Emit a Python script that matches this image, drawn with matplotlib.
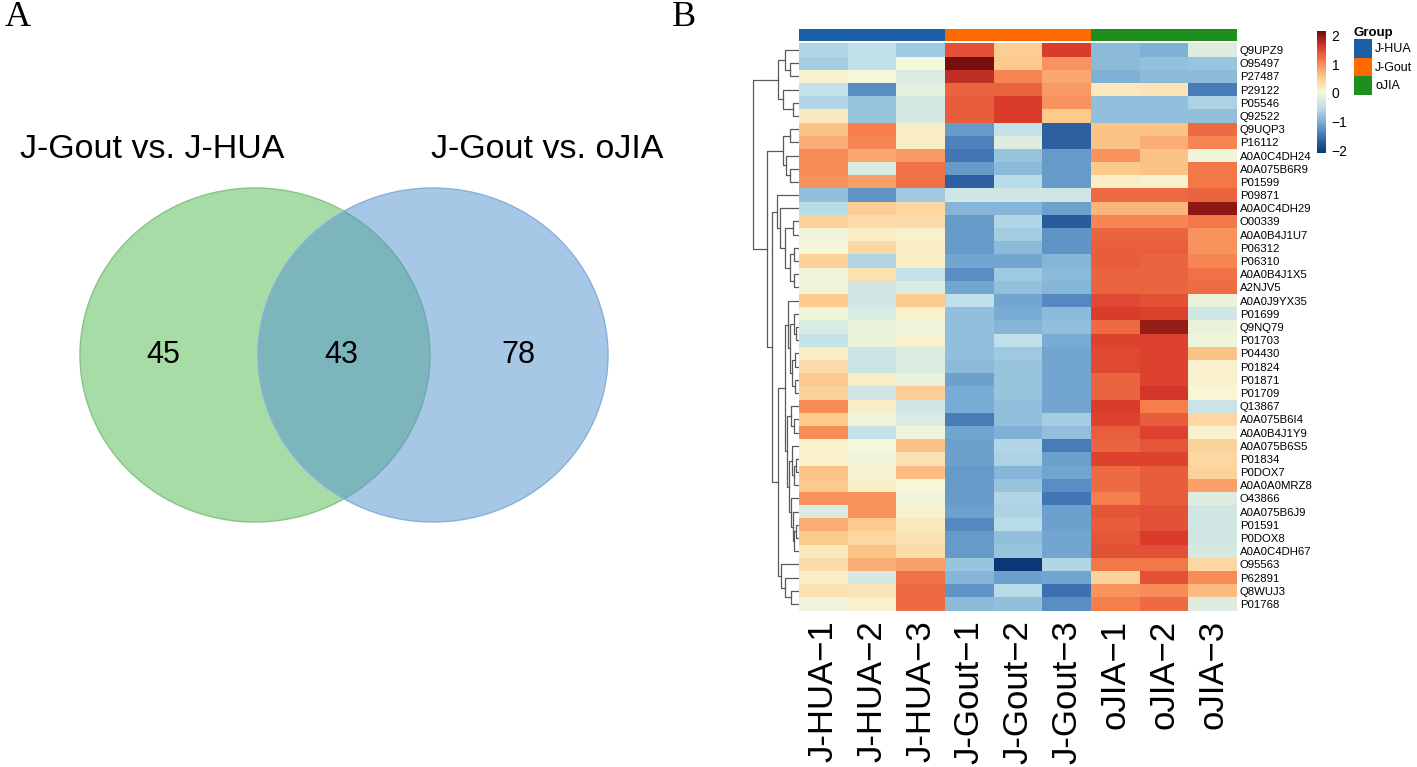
import numpy as np
import matplotlib
matplotlib.use('Agg')
import matplotlib.pyplot as plt
from matplotlib.colors import LinearSegmentedColormap, ListedColormap
from matplotlib.patches import Ellipse, Patch

plt.rcParams['font.family'] = ['Liberation Sans', 'DejaVu Sans']

# ---- data ----
venn_titles = ['J-Gout vs. J-HUA', 'J-Gout vs. oJIA']
venn_counts = [45, 43, 78]   # left only, shared, right only

proteins = ['Q9UPZ9', 'O95497', 'P27487', 'P29122', 'P05546', 'Q92522', 'Q9UQP3',
            'P16112', 'A0A0C4DH24', 'A0A075B6R9', 'P01599', 'P09871', 'A0A0C4DH29',
            'O00339', 'A0A0B4J1U7', 'P06312', 'P06310', 'A0A0B4J1X5', 'A2NJV5',
            'A0A0J9YX35', 'P01699', 'Q9NQ79', 'P01703', 'P04430', 'P01824', 'P01871',
            'P01709', 'Q13867', 'A0A075B6I4', 'A0A0B4J1Y9', 'A0A075B6S5', 'P01834',
            'P0DOX7', 'A0A0A0MRZ8', 'O43866', 'A0A075B6J9', 'P01591', 'P0DOX8',
            'A0A0C4DH67', 'O95563', 'P62891', 'Q8WUJ3', 'P01768']
samples = ['J-HUA\u22121', 'J-HUA\u22122', 'J-HUA\u22123',
           'J-Gout\u22121', 'J-Gout\u22122', 'J-Gout\u22123',
           'oJIA\u22121', 'oJIA\u22122', 'oJIA\u22123']
groups = ['J-HUA', 'J-Gout', 'oJIA']
group_colors = ['#1B5EA6', '#FF6A00', '#1E8E1E']
sample_group = [0, 0, 0, 1, 1, 1, 2, 2, 2]

zscores = np.array([
    [-0.60, -0.50, -0.75, 1.45, 0.50, 1.60, -0.90, -1.00, -0.20],
    [-0.70, -0.50, 0.00, 2.10, 0.55, 0.95, -0.90, -0.85, -0.80],
    [0.10, 0.00, -0.25, 1.75, 1.05, 0.80, -1.00, -0.90, -0.90],
    [-0.45, -1.30, -0.15, 1.30, 1.30, 0.90, 0.20, 0.25, -1.45],
    [-0.60, -0.80, -0.30, 1.35, 1.60, 0.95, -0.85, -0.85, -0.65],
    [0.20, -0.80, -0.30, 1.35, 1.60, 0.55, -0.85, -0.85, -0.85],
    [0.60, 1.10, 0.15, -1.20, -0.45, -1.70, 0.60, 0.60, 1.25],
    [0.75, 1.05, 0.15, -1.40, -0.20, -1.70, 0.60, 0.75, 1.05],
    [1.00, 0.80, 0.90, -1.50, -0.80, -1.20, 0.95, 0.60, -0.05],
    [1.00, -0.25, 1.20, -1.20, -0.90, -1.20, 0.55, 0.60, 1.15],
    [0.95, 0.85, 1.20, -1.70, -0.55, -1.20, 0.15, 0.10, 1.15],
    [-0.85, -1.25, -0.75, -0.35, -0.35, -0.35, 1.25, 1.25, 1.30],
    [-0.55, 0.50, 0.40, -0.95, -0.95, -1.15, 0.70, 0.70, 2.00],
    [0.45, 0.35, 0.35, -1.20, -0.60, -1.75, 1.05, 1.05, 1.15],
    [-0.05, 0.15, 0.10, -1.20, -0.70, -1.25, 1.30, 1.30, 0.95],
    [0.05, 0.40, 0.15, -1.20, -0.90, -1.25, 1.35, 1.35, 0.95],
    [0.45, -0.60, 0.15, -1.10, -1.10, -0.95, 1.35, 1.30, 1.05],
    [-0.05, 0.30, -0.45, -1.30, -0.75, -0.90, 1.30, 1.30, 1.20],
    [-0.05, -0.35, -0.25, -1.10, -0.85, -0.95, 1.30, 1.30, 1.25],
    [0.55, -0.35, 0.55, -0.50, -1.10, -1.35, 1.50, 1.45, -0.10],
    [-0.05, -0.25, 0.10, -0.85, -1.05, -0.90, 1.60, 1.55, -0.35],
    [-0.25, -0.10, -0.05, -0.85, -0.95, -0.85, 1.25, 1.95, -0.10],
    [-0.45, -0.10, 0.10, -0.85, -0.50, -1.05, 1.55, 1.55, -0.05],
    [0.15, -0.40, -0.25, -0.85, -0.75, -1.10, 1.50, 1.55, 0.60],
    [0.35, -0.40, -0.25, -0.90, -0.80, -1.10, 1.50, 1.55, 0.10],
    [0.55, 0.15, -0.10, -1.15, -0.80, -1.10, 1.30, 1.55, 0.10],
    [0.45, -0.35, 0.50, -1.05, -0.80, -1.10, 1.30, 1.65, 0.05],
    [1.00, 0.15, -0.35, -1.05, -0.85, -1.10, 1.60, 1.10, -0.40],
    [0.55, -0.05, -0.25, -1.45, -0.85, -0.70, 1.55, 1.35, 0.40],
    [1.00, -0.45, -0.05, -1.10, -1.00, -0.85, 1.35, 1.55, 0.10],
    [0.10, 0.00, 0.60, -1.15, -0.60, -1.45, 1.30, 1.40, 0.45],
    [0.10, -0.05, 0.30, -1.15, -0.65, -1.15, 1.55, 1.55, 0.40],
    [0.60, 0.10, 0.65, -1.20, -0.95, -1.10, 1.25, 1.35, 0.45],
    [0.55, 0.15, 0.05, -1.20, -0.80, -1.30, 1.25, 1.35, 0.85],
    [0.95, 0.95, -0.05, -1.20, -0.60, -1.50, 1.10, 1.35, -0.20],
    [-0.25, 0.95, 0.10, -1.15, -0.65, -1.15, 1.40, 1.45, -0.35],
    [0.75, 0.55, 0.20, -1.35, -0.55, -1.15, 1.35, 1.45, -0.35],
    [0.55, 0.40, 0.30, -1.20, -0.85, -1.10, 1.40, 1.60, -0.35],
    [0.20, 0.60, 0.35, -1.20, -0.80, -1.10, 1.45, 1.45, -0.30],
    [0.35, 0.75, 0.85, -0.80, -2.10, -0.60, 1.15, 1.15, 0.40],
    [0.15, -0.30, 1.20, -0.95, -1.15, -1.10, 0.45, 1.45, 1.00],
    [0.30, 0.25, 1.25, -1.25, -0.55, -1.55, 0.95, 1.00, 0.65],
    [-0.05, 0.10, 1.25, -0.90, -0.85, -1.30, 1.10, 1.25, -0.20],
])

# row dendrogram: [merge height, left, right], leaves are row indices
row_tree = [46,
            [21, [14, 0, [9, 1, 2]], [16, 3, [6, 4, 5]]],
            [32,
             [16, [9, 6, 7], [13, 8, [9, 9, 10]]],
             [27,
              [22, 11, [19, 12, [14, [6, 13, 14], [9, [5, 15, 16], [5, 17, 18]]]]],
              [21,
               [14,
                [11, 19, [9, [5, 20, [3, 21, 22]], [7, [4, 23, 24], [4, 25, 26]]]],
                [12, [8, 27, [5, 28, 29]],
                 [10, [7, 30, [5, [3, 31, 32], 33]],
                  [8, 34, [6, 35, [5, [3, 36, 37], 38]]]]]],
               [18, 39, [14, 40, [8, 41, 42]]]]]]]

# ---- figure ----
W, H = 1417, 767
fig = plt.figure(figsize=(W / 100, H / 100), dpi=100)


def px_axes(x0, y0, x1, y1):
    return fig.add_axes([x0 / W, 1 - y1 / H, (x1 - x0) / W, (y1 - y0) / H])


# panel A: Venn
ax_v = px_axes(0, 0, 708, H)
ax_v.set_xlim(0, 708)
ax_v.set_ylim(H, 0)
ax_v.axis('off')
vx = [255, 433]
vy = 355
ew, eh = 350, 334
fills = [(83 / 255, 187 / 255, 81 / 255), (81 / 255, 145 / 255, 209 / 255)]
edges = ['#86C484', '#86B0DA']
for x, fc, ec in zip(vx, fills, edges):
    ax_v.add_patch(Ellipse((x, vy), ew, eh, facecolor=fc, alpha=0.5, edgecolor='none'))
    ax_v.add_patch(Ellipse((x, vy), ew, eh, fill=False, edgecolor=ec, lw=1))
ax_v.text(152, 150, venn_titles[0], fontsize=24.5, ha='center', va='center')
ax_v.text(547, 150, venn_titles[1], fontsize=24.5, ha='center', va='center')
for x, n in zip([163, 341, 518], venn_counts):
    ax_v.text(x, vy, str(n), fontsize=22, ha='center', va='center')

fig.text(18 / W, 1 - 18 / H, 'A', fontsize=26, family='Liberation Serif', ha='center', va='center')
fig.text(684 / W, 1 - 18 / H, 'B', fontsize=26, family='Liberation Serif', ha='center', va='center')

# panel B: heatmap
cmap = LinearSegmentedColormap.from_list(
    'hm', ['#0B3677', '#3A6EAF', '#7AAED5', '#BEDFEA', '#F8F8D8',
           '#FDC98C', '#F6804C', '#D9392B', '#6E0A0A'])
vmin, vmax = -2.1, 2.15

ax_h = px_axes(799, 43.4, 1237, 610.6)
mesh = ax_h.pcolormesh(np.arange(len(samples) + 1), np.arange(len(proteins) + 1), zscores,
                       cmap=cmap, vmin=vmin, vmax=vmax)
ax_h.set_xlim(0, len(samples))
ax_h.set_ylim(len(proteins), 0)
for s in ax_h.spines.values():
    s.set_visible(False)
ax_h.set_xticks(np.arange(len(samples)) + 0.5)
ax_h.set_xticklabels(samples, rotation=90, fontsize=25, ha='center', va='top')
ax_h.yaxis.tick_right()
ax_h.set_yticks(np.arange(len(proteins)) + 0.5)
ax_h.set_yticklabels(proteins, fontsize=8.2)
ax_h.tick_params(axis='x', length=0, pad=7)
ax_h.tick_params(axis='y', length=0, pad=2)

# annotation bar
ax_a = px_axes(799, 29, 1237, 41)
ax_a.imshow(np.array([sample_group]), cmap=ListedColormap(group_colors), aspect='auto',
            vmin=-0.5, vmax=2.5, extent=(0, len(samples), 1, 0))
ax_a.axis('off')

# dendrogram
ax_d = px_axes(745, 43.4, 799, 610.6)
ax_d.set_xlim(54, 0)
ax_d.set_ylim(len(proteins), 0)
ax_d.axis('off')


def draw(node):
    if isinstance(node, int):
        return node + 0.5, 0.0
    h, left, right = node
    yl, hl = draw(left)
    yr, hr = draw(right)
    ax_d.plot([hl, h, h, hr], [yl, yl, yr, yr], color='#5a5a5a', lw=0.9)
    return (yl + yr) / 2, h


draw(row_tree)

# colorbar
cax = px_axes(1317, 31, 1326, 153)
cb = fig.colorbar(mesh, cax=cax, ticks=[-2, -1, 0, 1, 2])
cb.outline.set_visible(False)
cax.tick_params(length=0, labelsize=10, pad=4)

# group legend
handles = [Patch(facecolor=c, edgecolor='none', label=g) for g, c in zip(groups, group_colors)]
leg = fig.legend(handles=handles, title='Group', loc='upper left',
                 bbox_to_anchor=(1354 / W, 1 - 27 / H), frameon=False, fontsize=9,
                 handlelength=1.4, handleheight=1.9, handletextpad=0.3,
                 labelspacing=0.0, borderaxespad=0, borderpad=0, alignment='left',
                 title_fontproperties={'weight': 'bold', 'size': 9.5})

fig.savefig('out.png', dpi=100)
